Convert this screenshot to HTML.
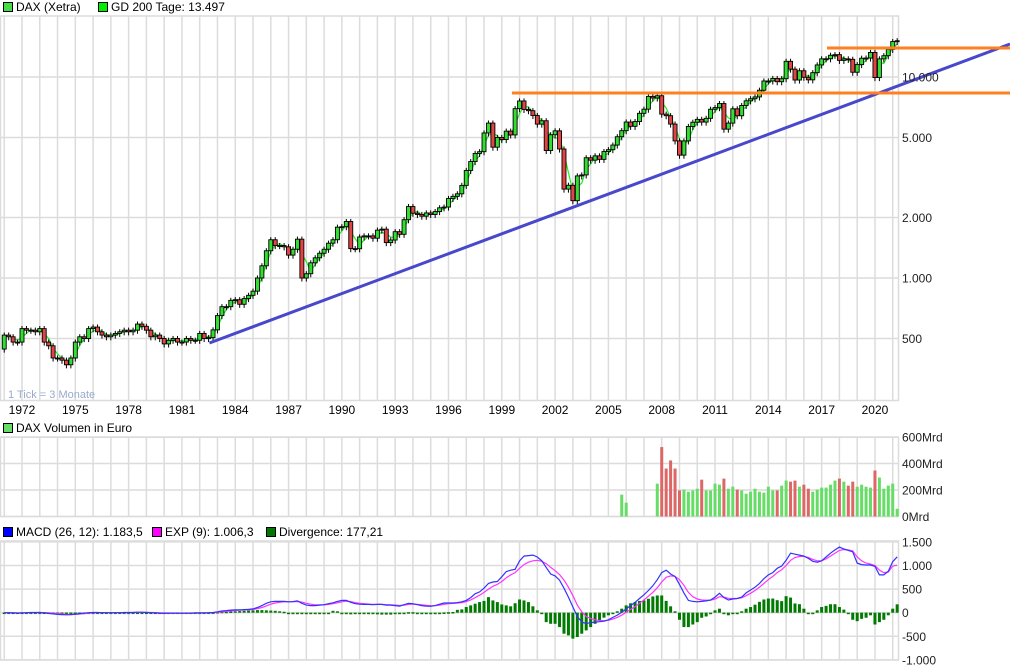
<!DOCTYPE html>
<html><head><meta charset="utf-8"><style>
html,body{margin:0;padding:0;background:#fff;}
svg{display:block;font-family:"Liberation Sans",Arial,sans-serif;}
</style></head><body>
<svg id="chart" width="1010" height="670" viewBox="0 0 1010 670" xmlns="http://www.w3.org/2000/svg">
<g>
<rect x="3.5" y="2.5" width="9" height="9" fill="#44dd44" stroke="#000"/>
<text x="16" y="11" font-size="12" fill="#000">DAX (Xetra)</text>
<rect x="98.5" y="2.5" width="9" height="9" fill="#00ee00" stroke="#000"/>
<text x="111" y="11" font-size="12" fill="#000">GD 200 Tage: 13.497</text>
</g>
<g>
<rect x="3.5" y="423.5" width="9" height="9" fill="#66dd66" stroke="#000"/>
<text x="16" y="432" font-size="12" fill="#000">DAX Volumen in Euro</text>
</g>
<g>
<rect x="3.5" y="527.5" width="9" height="9" fill="#0000ff" stroke="#000"/>
<text x="16" y="536" font-size="12" fill="#000">MACD (26, 12): 1.183,5</text>
<rect x="152.5" y="527.5" width="9" height="9" fill="#ff00ff" stroke="#000"/>
<text x="165" y="536" font-size="12" fill="#000">EXP (9): 1.006,3</text>
<rect x="266.5" y="527.5" width="9" height="9" fill="#007700" stroke="#000"/>
<text x="279" y="536" font-size="12" fill="#000">Divergence: 177,21</text>
</g>
<g id="grid"></g>
<g id="marks"></g>
<g id="labels"></g>
</svg>
<script>
// ---- data (quarterly, starting 1971 Q1) ----
const startYear = 1971;
const firstOpen = 443;
const closes = [
520,510,480,480, 560,550,550,540, 560,480,460,400, 400,390,370,400,
480,510,500,560, 570,540,520,510, 520,530,540,550, 540,550,590,575,
550,510,520,500, 470,490,500,480, 480,500,490,490, 530,500,505,552,
650,720,720,774, 780,740,790,820, 860,1000,1150,1366, 1550,1450,1450,1430,
1300,1390,1560,1000, 1050,1190,1260,1328, 1390,1490,1550,1790, 1800,1910,1400,1398,
1600,1620,1620,1578, 1730,1750,1500,1545, 1700,1650,1950,2267, 2100,2070,2030,2107,
2071,2140,2235,2254, 2485,2548,2623,2889, 3429,3796,4167,4250, 5266,5898,4475,5002,
4884,5378,5150,6958, 7599,6898,6798,6434, 5829,6058,4308,5160, 5397,4383,2769,2893,
2424,3220,3257,3965, 3856,4052,3893,4256, 4349,4586,5044,5408, 5970,5683,6004,6597,
6917,8007,7862,8067, 6535,6418,5831,4810, 4085,4809,5675,5957, 6154,5966,6229,6914,
7041,7376,5502,5898, 6947,6416,7216,7612, 7795,7959,8594,9552, 9556,9833,9474,9806,
11966,10945,9660,10743, 9966,9680,10511,11481, 12313,12325,12829,12918, 12097,12306,12247,10559,
11526,12399,12428,13249, 9936,12311,12761,13719, 15008,15150];
const volumeStartIndex = 139; // 2005 Q4
const volumes = [165,104,null,null,null,null,null,null,
248,524,362,423,362,197,203,187,197,210,278,197,197,248,240,286,210,225,203,197,
172,187,210,187,180,225,197,197,233,271,263,271,225,240,210,187,203,218,218,240,
271,286,263,233,263,225,240,225,218,347,294,210,233,248,58];
const macd = [
0,0,-5,-10, -5,0,5,5, 5,-5,-15,-25, -35,-40,-45,-40, -30,-20,-10,0, 5,5,0,0,
0,0,0,5, 5,5,10,10, 5,0,-5,-10, -15,-10,-10,-10, -10,-10,-10,-5, -5,-5,0,5,
20,35,45,55, 60,60,65,70, 80,110,150,200, 230,240,240,240, 230,235,250,200,
160,150,150,160, 170,190,210,240, 260,260,220,190, 180,175,175,170, 175,175,160,160,
150,140,170,200, 190,170,150,140, 135,150,180,205, 205,205,215,230, 260,320,400,440,
520,620,650,660, 760,870,900,920, 1100,1200,1210,1220, 1180,1100,960,820, 780,690,520,330,
120,-80,-200,-230, -210,-200,-190,-180, -150,-100,-50,10, 80,150,220,300, 380,470,570,700,
850,900,820,770, 600,420,260,240, 230,240,250,270, 330,410,320,270, 290,300,330,420,
480,540,620,720, 800,850,940,990, 1110,1260,1240,1220, 1200,1150,1090,1070, 1100,1180,1260,1330,
1390,1350,1320,1290, 1050,1020,1010,1010, 980,800,800,880, 1080,1183.5];
const signal = [
0,0,0,-5, -5,-3,0,3, 4,2,-5,-12, -20,-28,-35,-38, -35,-28,-20,-10, -3,2,2,1,
0,0,0,2, 3,4,6,8, 7,5,2,-3, -7,-9,-10,-10, -10,-10,-10,-8, -7,-6,-4,-1,
8,18,28,38, 46,52,57,62, 68,85,110,145, 180,205,220,230, 230,232,238,225,
200,180,168,165, 166,175,190,210, 230,245,235,215, 200,190,183,178, 176,175,170,166,
160,152,158,175, 182,178,167,157, 148,148,160,178, 190,197,205,215, 235,270,320,370,
430,500,560,600, 660,740,800,850, 940,1020,1070,1100, 1110,1090,1040,960, 890,810,690,540,
360,160,20,-80, -120,-150,-165,-170, -160,-135,-100,-50, 10,70,130,200, 270,350,430,530,
650,750,780,770, 700,580,430,340, 290,270,265,267, 290,340,330,305, 300,300,315,360,
410,470,540,620, 700,770,850,910, 1000,1110,1170,1190, 1195,1170,1130,1100, 1100,1140,1200,1260,
1320,1340,1330,1310, 1180,1100,1050,1030, 1000,900,850,860, 990,1006.3];
const divergence = [
3,3,3,3,3,3,3,3,3,3,3,3, 3,3,3,3,3,3,3,3,3,3,3,3,
3,3,3,3,3,3,3,3,3,3,3,3, 3,3,3,3,3,3,3,3,3,3,3,3,
15,20,20,25, 30,35,40,45,50,55,55,50,45,40,30,20,
-10,-20,-25,-30,-20,-15,-15,-10,-20,-25,40,30,
-30,-30,-35,-30,-25,-20,-20,-30,-35,
-40,-40,-40,-30,-30,-20,10,10,0,0,0,0, 0,0,5, 10,15,60,70,
120,155,190,225,250,330,260,225,175,155,135,200,280,260,225,135,50,-20,-200,-235,
-235,-305,-445,-480,-550,-515,-445,-375,-305,-235,-160,-105,-55,-20,30,85,155,200,225,250,
260,295,345,365,365,250,135,30,-150,-305,-305,-250,-200,
-107,-80,0,50,85,-20,-55,-20,-20,30, 85,120,170,230,280,300,300,265,245,350,
320,195,180,85,0,-20,50,120,145,180, 180,120,65,0,-150,-180,-130,-107,-55,-250,
-200,-150,-55,85,177.21];
const priceTicks = [500,1000,2000,5000,10000];
const priceTickLabels = ["500","1.000","2.000","5.000","10.000"];
const yearTicks = [1972,1975,1978,1981,1984,1987,1990,1993,1996,1999,2002,2005,2008,2011,2014,2017,2020];
const volTicks = [0,200,400,600];
const volTickLabels = ["0Mrd","200Mrd","400Mrd","600Mrd"];
const macdTicks = [-1000,-500,0,500,1000,1500];
const macdTickLabels = ["-1.000","-500","0","500","1.000","1.500"];
const trendLine = [1982.55, 475, 2027.6, 14585];
const resistance1 = [1999.57, 8325, 2027.6, 8325];
const resistance2 = [2017.3, 13940, 2027.6, 13940];

// ---- scales ----
const X1 = 898.5;
const xT = t => 22 + (t - 1972) * 17.77;
const xQ = i => xT(startYear + i / 4);
const yP = p => 77 + (4 - Math.log10(p)) * 201;
const yV = v => 516.5 - v * 26.5 / 200;
const yM = v => 612.7 - v * 23.6 / 500;
const NS = "http://www.w3.org/2000/svg";
function mk(parent, tag, attrs) {
  const el = document.createElementNS(NS, tag);
  for (const k in attrs) el.setAttribute(k, attrs[k]);
  parent.appendChild(el);
  return el;
}
const grid = document.getElementById('grid');
const marks = document.getElementById('marks');
const labels = document.getElementById('labels');
const GC = "#dcdcdc";

const panels = [[16, 400.5, 'price-panel'], [437.3, 516.5, 'volume-panel'], [541, 660, 'macd-panel']];
panels.forEach(p => {
  const r = mk(grid, 'rect', {x: 0.5, y: p[0], width: X1 - 0.5, height: p[1] - p[0], fill: 'none', stroke: GC, 'stroke-width': 1.5});
  
  
  for (let yr = 1971; yr <= 2021; yr++) {
    const l = mk(grid, 'line', {x1: xT(yr), x2: xT(yr), y1: p[0], y2: p[1], stroke: GC, 'stroke-width': 1.5});
    
    
  }
});
priceTicks.forEach((v, i) => {
  const y = yP(v);
  const l = mk(grid, 'line', {x1: 0, x2: X1, y1: y, y2: y, stroke: GC, 'stroke-width': 1.5});
  
  
  const t = mk(labels, 'text', {x: 902, y: y + 4.5, 'font-size': 12, fill: '#222'});
  t.textContent = priceTickLabels[i];
  
  
});
volTicks.forEach((v, i) => {
  const y = yV(v);
  const l = mk(grid, 'line', {x1: 0, x2: X1, y1: y, y2: y, stroke: GC, 'stroke-width': 1.5});
  
  
  const t = mk(labels, 'text', {x: 902, y: y + 4.5, 'font-size': 12, fill: '#222'});
  t.textContent = volTickLabels[i];
  
  
});
macdTicks.forEach((v, i) => {
  const y = yM(v);
  const l = mk(grid, 'line', {x1: 0, x2: X1, y1: y, y2: y, stroke: GC, 'stroke-width': 1.5});
  
  
  const t = mk(labels, 'text', {x: 902, y: y + 4.5, 'font-size': 12, fill: '#222'});
  t.textContent = macdTickLabels[i];
  
  
});
yearTicks.forEach(yr => {
  const t = mk(labels, 'text', {x: xT(yr), y: 414, 'font-size': 12, fill: '#000', 'text-anchor': 'middle'});
  t.textContent = String(yr);
  
  
});
const tick = mk(labels, 'text', {x: 8, y: 398, 'font-size': 11, fill: '#9aaacc'});
tick.textContent = '1 Tick = 3 Monate';



// ---- GD200 ----
let gd = '';
closes.forEach((c, i) => {
  const a = closes.slice(Math.max(0, i - 2), i + 1);
  const m = a.reduce((s, v) => s + v, 0) / a.length;
  gd += (i ? 'L' : 'M') + xQ(i).toFixed(1) + ',' + yP(m).toFixed(1);
});
const gdl = mk(marks, 'path', {d: gd, fill: 'none', stroke: '#22ee22', 'stroke-width': 1.2});



// ---- candles ----
closes.forEach((c, i) => {
  const o = i ? closes[i - 1] : firstOpen;
  const up = c >= o;
  const hi = Math.max(o, c) * 1.03, lo = Math.min(o, c) * 0.96;
  const x = xQ(i);
  const g = mk(marks, 'g', {});
  
  
  mk(g, 'line', {x1: x, x2: x, y1: yP(hi), y2: yP(lo), stroke: '#000', 'stroke-width': 1});
  const yt = yP(Math.max(o, c)), yb = yP(Math.min(o, c));
  mk(g, 'rect', {x: x - 2, y: yt, width: 4, height: Math.max(1, yb - yt), fill: up ? '#33dd33' : '#e04444', stroke: '#000', 'stroke-width': 0.9});
});

// ---- annotation lines ----
[[trendLine, '#4848cc', 'trend-line'], [resistance1, '#ff8020', 'resistance-line-8300'], [resistance2, '#ff8020', 'resistance-line-13900']].forEach(d => {
  const L = d[0];
  const l = mk(marks, 'line', {x1: xT(L[0]), y1: yP(L[1]), x2: xT(L[2]), y2: yP(L[3]), stroke: d[1], 'stroke-width': 3});
  
  
});

// ---- volume ----
volumes.forEach((v, k) => {
  if (v == null) return;
  const i = volumeStartIndex + k;
  const o = i ? closes[i - 1] : firstOpen;
  const up = closes[i] >= o;
  const r = mk(marks, 'rect', {x: xQ(i) - 1.5, y: yV(v), width: 3, height: yV(0) - yV(v), fill: up ? '#66dd66' : '#dd6666'});
  
  
});

// ---- MACD ----
divergence.forEach((d, i) => {
  const y0 = yM(0), y1 = yM(d);
  const r = mk(marks, 'rect', {x: xQ(i) - 1.5, y: Math.min(y0, y1), width: 3, height: Math.max(1.5, Math.abs(y1 - y0)), fill: '#007a00'});
  
  
});
function linePath(arr) {
  return arr.map((v, i) => (i ? 'L' : 'M') + xQ(i).toFixed(1) + ',' + yM(v).toFixed(1)).join('');
}
const sl = mk(marks, 'path', {d: linePath(signal), fill: 'none', stroke: '#ff33ff', 'stroke-width': 1.2});


const ml = mk(marks, 'path', {d: linePath(macd), fill: 'none', stroke: '#3333ff', 'stroke-width': 1.2});


</script>
</body></html>
